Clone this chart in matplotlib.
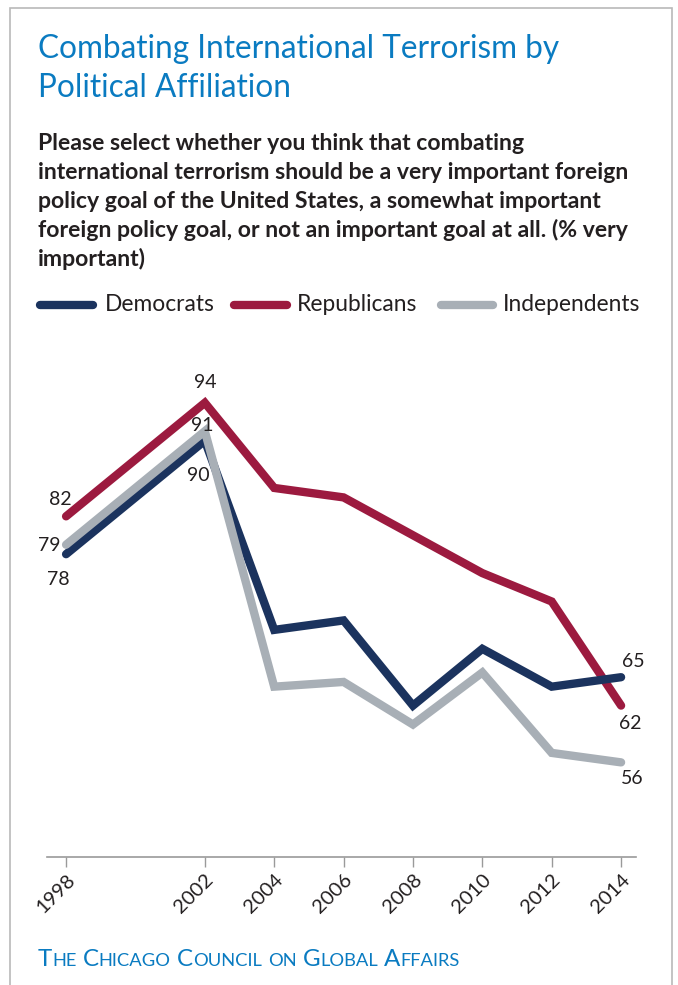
import matplotlib
matplotlib.use('Agg')
import matplotlib.pyplot as plt
from matplotlib.patches import Rectangle
from matplotlib.lines import Line2D

W, H = 678, 985

years = [1998, 2002, 2004, 2006, 2008, 2010, 2012, 2014]
democrats = [78, 90, 70, 71, 62, 68, 64, 65]
republicans = [82, 94, 85, 84, 80, 76, 73, 62]
independents = [79, 91, 64, 64.5, 60, 65.5, 57, 56]
series_names = ['Democrats', 'Republicans', 'Independents']

navy = '#1b335e'
crimson = '#9c1a3f'
grey = '#a8afb6'
blue = '#0a7bc1'
ink = '#231f20'

plt.rcParams['font.family'] = ['Lato', 'DejaVu Sans']


def px(x, y):
    # pixel position (from top-left) -> figure fraction
    return x / W, 1 - y / H


fig = plt.figure(figsize=(W / 100, H / 100), dpi=100)

# thin frame round the whole panel
fig.patches.append(Rectangle(px(10, 995), 662 / W, 987 / H, transform=fig.transFigure,
                             fill=False, edgecolor='#b9b9b9', linewidth=1.2))

fig.text(*px(38, 58), 'Combating International Terrorism by', color=blue,
         fontsize=22.7, va='baseline')
fig.text(*px(38, 97), 'Political Affiliation', color=blue, fontsize=22.7, va='baseline')

question = ['Please select whether you think that combating',
            'international terrorism should be a very important foreign',
            'policy goal of the United States, a somewhat important',
            'foreign policy goal, or not an important goal at all. (% very',
            'important)']
for i, line in enumerate(question):
    fig.text(*px(38, 150 + 29 * i), line, color=ink, fontsize=16.6,
             fontweight='bold', va='baseline')

# legend drawn by hand: short thick stroke + label
legend_x = [(40, 93, 105), (234, 287, 297), (441, 493, 503)]
for (x0, x1, xt), name, col in zip(legend_x, series_names, [navy, crimson, grey]):
    fig.lines.append(Line2D([x0 / W, x1 / W], [1 - 305 / H] * 2, transform=fig.transFigure,
                            color=col, linewidth=6, solid_capstyle='round'))
    fig.text(*px(xt, 305), name, color=ink, fontsize=16.4, va='center')

ax = fig.add_axes([47 / W, 1 - 857 / H, 589 / W, 511 / H])
ax.set_xlim(1997.45, 2014.43)
ax.set_ylim(46, 100)

for vals, col, z in [(republicans, crimson, 2), (democrats, navy, 3), (independents, grey, 4)]:
    ax.plot(years, vals, color=col, linewidth=6, solid_capstyle='round',
            solid_joinstyle='miter', zorder=z)

# value callouts: (series, index, offset in pixels)
callouts = [(republicans, 0, (-6, -17)), (independents, 0, (-17, 1)), (democrats, 0, (-8, 25)),
            (republicans, 1, (0, -20)), (independents, 1, (-3, -6)), (democrats, 1, (-7, 35)),
            (democrats, 7, (12, -16)), (republicans, 7, (9, 18)), (independents, 7, (11, 16))]
for vals, i, (dx, dy) in callouts:
    ax.annotate(f'{vals[i]:g}', (years[i], vals[i]), xytext=(dx * 0.72, -dy * 0.72),
                textcoords='offset points', ha='center', va='center', fontsize=14,
                color=ink, zorder=6)

for side in ['left', 'right', 'top']:
    ax.spines[side].set_visible(False)
ax.spines['bottom'].set_color('#9a9a9a')
ax.spines['bottom'].set_linewidth(1.2)
ax.set_yticks([])
ax.set_xticks(years)
ax.set_xticklabels([str(y) for y in years], rotation=45, ha='right', va='top',
                   rotation_mode='anchor', fontsize=14.5, color=ink)
ax.tick_params(axis='x', length=7, width=1, color='#9a9a9a', pad=3)
ax.patch.set_alpha(0)

# footer in small caps
renderer = fig.canvas.get_renderer()
x = 38
for word in 'The Chicago Council on Global Affairs'.split():
    parts = [(word[0].upper(), 17.4), (word[1:].upper(), 13.2)]
    if word == 'on':
        parts = [(word.upper(), 13.2)]
    for chunk, size in parts:
        t = fig.text(*px(x, 966), chunk, color=blue, fontsize=size, va='baseline')
        x += t.get_window_extent(renderer).width
    x += 6

fig.savefig('out.png', dpi=100)
